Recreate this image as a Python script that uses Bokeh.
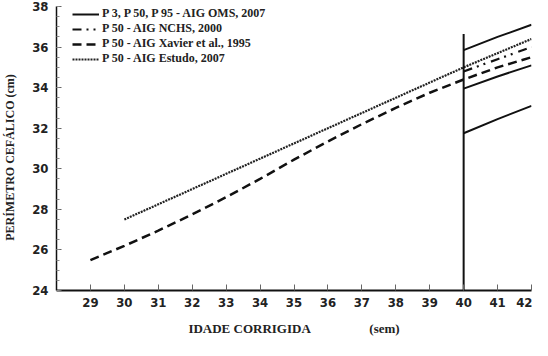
from bokeh.plotting import figure
from bokeh.models import Range1d, FixedTicker, Legend, LegendItem
from bokeh.embed import file_html
from bokeh.resources import INLINE

# ---- data ----
week_ticks = [29, 30, 31, 32, 33, 34, 35, 36, 37, 38, 39, 40, 41, 42]
pc_ticks = [24, 26, 28, 30, 32, 34, 36, 38]
pc_minor = [24 + 0.5 * i for i in range(29)]

oms_weeks = [40, 41, 42]
oms_p3 = [31.75, 32.45, 33.1]
oms_p50 = [33.95, 34.55, 35.1]
oms_p95 = [35.85, 36.5, 37.1]

nchs_weeks = [40, 41, 42]
nchs_p50 = [34.8, 35.4, 36.0]

xavier_weeks = [29, 30, 31, 32, 33, 34, 35, 36, 37, 38, 39, 40, 41, 42]
xavier_p50 = [25.5, 26.2, 26.95, 27.75, 28.6, 29.5, 30.45, 31.35, 32.2, 33.0, 33.75, 34.4, 35.0, 35.5]

estudo_weeks = [30, 31, 32, 33, 34, 35, 36, 37, 38, 39, 40, 41, 42]
estudo_p50 = [27.5, 28.25, 29.0, 29.75, 30.5, 31.25, 32.0, 32.75, 33.5, 34.25, 35.0, 35.7, 36.4]

term_week = [40]
term_low = [24]
term_top = [36.65]

labels = ["P 3, P 50, P 95 - AIG OMS, 2007",
          "P 50 - AIG NCHS, 2000",
          "P 50 - AIG Xavier et al., 1995",
          "P 50 - AIG Estudo, 2007"]

SANS = "Liberation Sans Narrow, DejaVu Sans Condensed, sans-serif"
SERIF = "Liberation Serif"
NB = "\u00a0"

p = figure(width=532, height=340, x_range=Range1d(28, 42), y_range=Range1d(24, 38),
           output_backend="svg", toolbar_location=None,
           min_border_left=49, min_border_right=1, min_border_top=6, min_border_bottom=50)
p.background_fill_color = "white"
p.border_fill_color = "white"
p.outline_line_color = None
p.xgrid.visible = False
p.ygrid.visible = False

# axes
p.xaxis.ticker = FixedTicker(ticks=week_ticks)
p.xaxis.axis_line_width = 2
p.xaxis.axis_line_color = "#111"
p.xaxis.major_tick_in = 6
p.xaxis.major_tick_out = 0
p.xaxis.major_tick_line_color = "#666"
p.xaxis.minor_tick_line_color = None
p.xaxis.major_label_standoff = 7
p.xaxis.major_label_text_font = SANS
p.xaxis.major_label_text_font_style = "bold"
p.xaxis.major_label_text_font_size = "13px"
p.xaxis.major_label_text_color = "#222"
p.xaxis.axis_label = "IDADE CORRIGIDA" + NB * 18 + "(sem)"
p.xaxis.axis_label_text_font = SERIF
p.xaxis.axis_label_text_font_style = "bold"
p.xaxis.axis_label_text_font_size = "13px"
p.xaxis.axis_label_text_color = "#222"
p.xaxis.axis_label_standoff = 11

p.yaxis.ticker = FixedTicker(ticks=pc_ticks, minor_ticks=pc_minor)
p.yaxis.axis_line_width = 1.5
p.yaxis.axis_line_color = "#111"
p.yaxis.major_tick_in = 5
p.yaxis.major_tick_out = 0
p.yaxis.minor_tick_in = 3
p.yaxis.minor_tick_out = 0
p.yaxis.major_tick_line_color = "#666"
p.yaxis.minor_tick_line_color = "#888"
p.yaxis.major_label_standoff = 8
p.yaxis.major_label_text_font = SANS
p.yaxis.major_label_text_font_style = "bold"
p.yaxis.major_label_text_font_size = "13px"
p.yaxis.major_label_text_color = "#222"
p.yaxis.axis_label = "PERÍMETRO CEFÁLICO (cm)" + NB * 6
p.yaxis.axis_label_text_font = SERIF
p.yaxis.axis_label_text_font_style = "bold"
p.yaxis.axis_label_text_font_size = "12px"
p.yaxis.axis_label_text_color = "#222"
p.yaxis.axis_label_standoff = 12

# series
r_oms = p.multi_line(xs=[oms_weeks, oms_weeks, oms_weeks], ys=[oms_p3, oms_p50, oms_p95],
                     line_color="#111", line_width=2)
r_nchs = p.line(nchs_weeks, nchs_p50, line_color="#111", line_width=2.2,
                line_dash="9 5 2 5 2 6")
r_xavier = p.line(xavier_weeks, xavier_p50, line_color="#111", line_width=2.5,
                  line_dash="9 5")
r_estudo = p.line(estudo_weeks, estudo_p50, line_color="#222", line_width=2.2,
                  line_dash="2 1")
p.segment(x0=term_week, y0=term_low, x1=term_week, y1=term_top,
          line_color="#111", line_width=2)

legend = Legend(items=[LegendItem(label=labels[0], renderers=[r_oms]),
                       LegendItem(label=labels[1], renderers=[r_nchs]),
                       LegendItem(label=labels[2], renderers=[r_xavier]),
                       LegendItem(label=labels[3], renderers=[r_estudo])],
                location=(16, 224))
legend.border_line_alpha = 0
legend.background_fill_alpha = 0
legend.label_text_font = SERIF
legend.label_text_font_style = "bold"
legend.label_text_font_size = "12px"
legend.label_text_color = "#222"
legend.glyph_width = 27
legend.glyph_height = 14
legend.label_height = 14
legend.label_standoff = 3
legend.spacing = 0
legend.padding = 0
legend.margin = 0
p.add_layout(legend)

open("out.html", "w").write(file_html(p, INLINE))
